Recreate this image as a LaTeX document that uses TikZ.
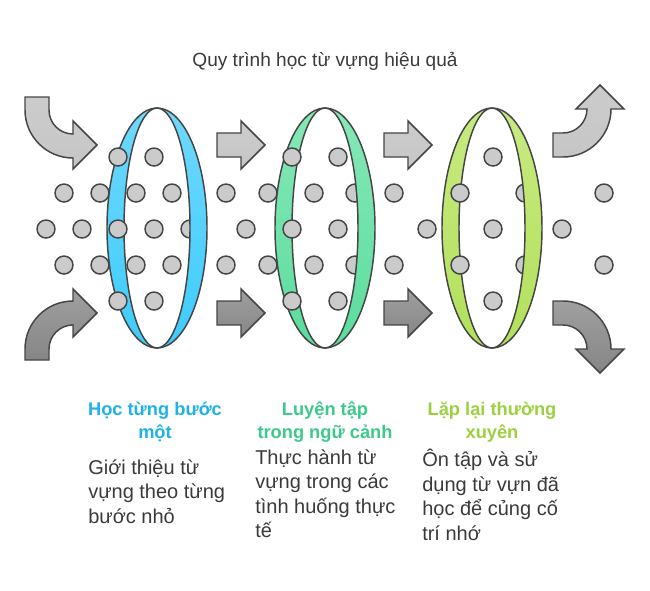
\documentclass[tikz,border=0pt]{standalone}
\usepackage{fontspec}
\setmainfont{Liberation Sans}
\definecolor{edge}{HTML}{454545}
\definecolor{dotgray}{HTML}{CBCBCB}
\definecolor{txtgray}{HTML}{3A3A3A}
\definecolor{blueA}{HTML}{1FB2E8}
\definecolor{greenA}{HTML}{3CC98A}
\definecolor{limeA}{HTML}{9BD13F}
\definecolor{ringAtop}{HTML}{6FD8FD}
\definecolor{ringAbot}{HTML}{3DCCFD}
\definecolor{ringBtop}{HTML}{86E8B8}
\definecolor{ringBbot}{HTML}{5BDC9E}
\definecolor{ringCtop}{HTML}{C8EA82}
\definecolor{ringCbot}{HTML}{B2E05A}
\tikzset{
  dot/.style={draw=edge, fill=dotgray, line width=1.1pt},
  lightarrow/.style={draw=edge, line width=1.1pt, top color=gray!40, bottom color=gray!45},
  darkarrow/.style={draw=edge, line width=1.1pt, top color=gray!75, bottom color=gray!95},
  heading/.style={font=\bfseries\fontsize{13.7}{17.5}\selectfont, align=center},
  body/.style={font=\fontsize{15}{18.4}\selectfont, text=txtgray, align=left, anchor=north west, inner sep=0pt},
}
\newcommand{\ringband}[3]{%
  \fill[top color=#2, bottom color=#3, even odd rule]
    (#1,228) ellipse [x radius=50, y radius=120] (#1,228) ellipse [x radius=33, y radius=120];
  \draw[edge, line width=1.1pt] (#1,228) ellipse [x radius=50, y radius=120];
  \draw[edge, line width=1.1pt] (#1,228) ellipse [x radius=33, y radius=120];
}
\begin{document}
\begin{tikzpicture}[x=0.75pt, y=-0.75pt]
  \useasboundingbox (0,0) rectangle (650,590);
  % title
  \node[text=txtgray, font=\fontsize{14.3}{16}\selectfont] (title) at (325,61) {Quy trình học từ vựng hiệu quả};
  % dots behind the rings
  \foreach \x/\y in {190/229, 355/193, 355/265, 525/193, 525/265}
    \draw[dot] (\x,\y) circle [radius=9];
  % rings
  \ringband{157}{ringAtop}{ringAbot}
  \ringband{325}{ringBtop}{ringBbot}
  \ringband{492}{ringCtop}{ringCbot}
  % dots in front
  \foreach \x in {118,154,292,338,493}{
    \draw[dot] (\x,157) circle [radius=9];
    \draw[dot] (\x,301) circle [radius=9];
  }
  \foreach \x in {64,100,136,172,226,268,314,394,460,604}{
    \draw[dot] (\x,193) circle [radius=9];
    \draw[dot] (\x,265) circle [radius=9];
  }
  \foreach \x in {46,82,118,154,246,292,338,427,493,562}
    \draw[dot] (\x,229) circle [radius=9];
  % straight arrows
  \foreach \x in {217,384}{
    \draw[lightarrow] (\x,133) -- ++(24,0) -- ++(0,-12) -- ++(24,24) -- ++(-24,24) -- ++(0,-12) -- ++(-24,0) -- cycle;
    \draw[darkarrow] (\x,301) -- ++(24,0) -- ++(0,-12) -- ++(24,24) -- ++(-24,24) -- ++(0,-12) -- ++(-24,0) -- cycle;
  }
  % curved arrows
  \draw[lightarrow] (25,97) -- (49,97) -- (49,110) arc [start angle=180, end angle=90, radius=24]
    -- (73,121) -- (97,145) -- (73,169) -- (73,158) arc [start angle=90, end angle=180, radius=48] -- cycle;
  \draw[darkarrow] (25,360) -- (49,360) -- (49,349) arc [start angle=180, end angle=270, radius=24]
    -- (73,337) -- (97,313) -- (73,289) -- (73,301) arc [start angle=270, end angle=180, radius=48] -- cycle;
  \draw[lightarrow] (553,133) -- (563,133) arc [start angle=90, end angle=0, radius=24]
    -- (576,109) -- (600,85) -- (624,109) -- (611,109) arc [start angle=0, end angle=90, radius=48] -- (553,157) -- cycle;
  \draw[darkarrow] (553,301) -- (563,301) arc [start angle=270, end angle=360, radius=48]
    -- (624,349) -- (600,373) -- (576,349) -- (587,349) arc [start angle=0, end angle=-90, radius=24] -- (553,325) -- cycle;
  % labels
  \node[heading, text=blueA] (step1) at (155,422) {Học từng bước\\một};
  \node[heading, text=greenA] (step2) at (325,422) {Luyện tập\\trong ngữ cảnh};
  \node[heading, text=limeA] (step3) at (492,422) {Lặp lại thường\\xuyên};
  \node[body] (desc1) at (88,459) {Giới thiệu từ\\vựng theo từng\\bước nhỏ};
  \node[body] (desc2) at (255,449) {Thực hành từ\\vựng trong các\\tình huống thực\\tế};
  \node[body] (desc3) at (422,449) {Ôn tập và sử\\dụng từ vựn đã\\học để củng cố\\trí nhớ};
\end{tikzpicture}
\end{document}
